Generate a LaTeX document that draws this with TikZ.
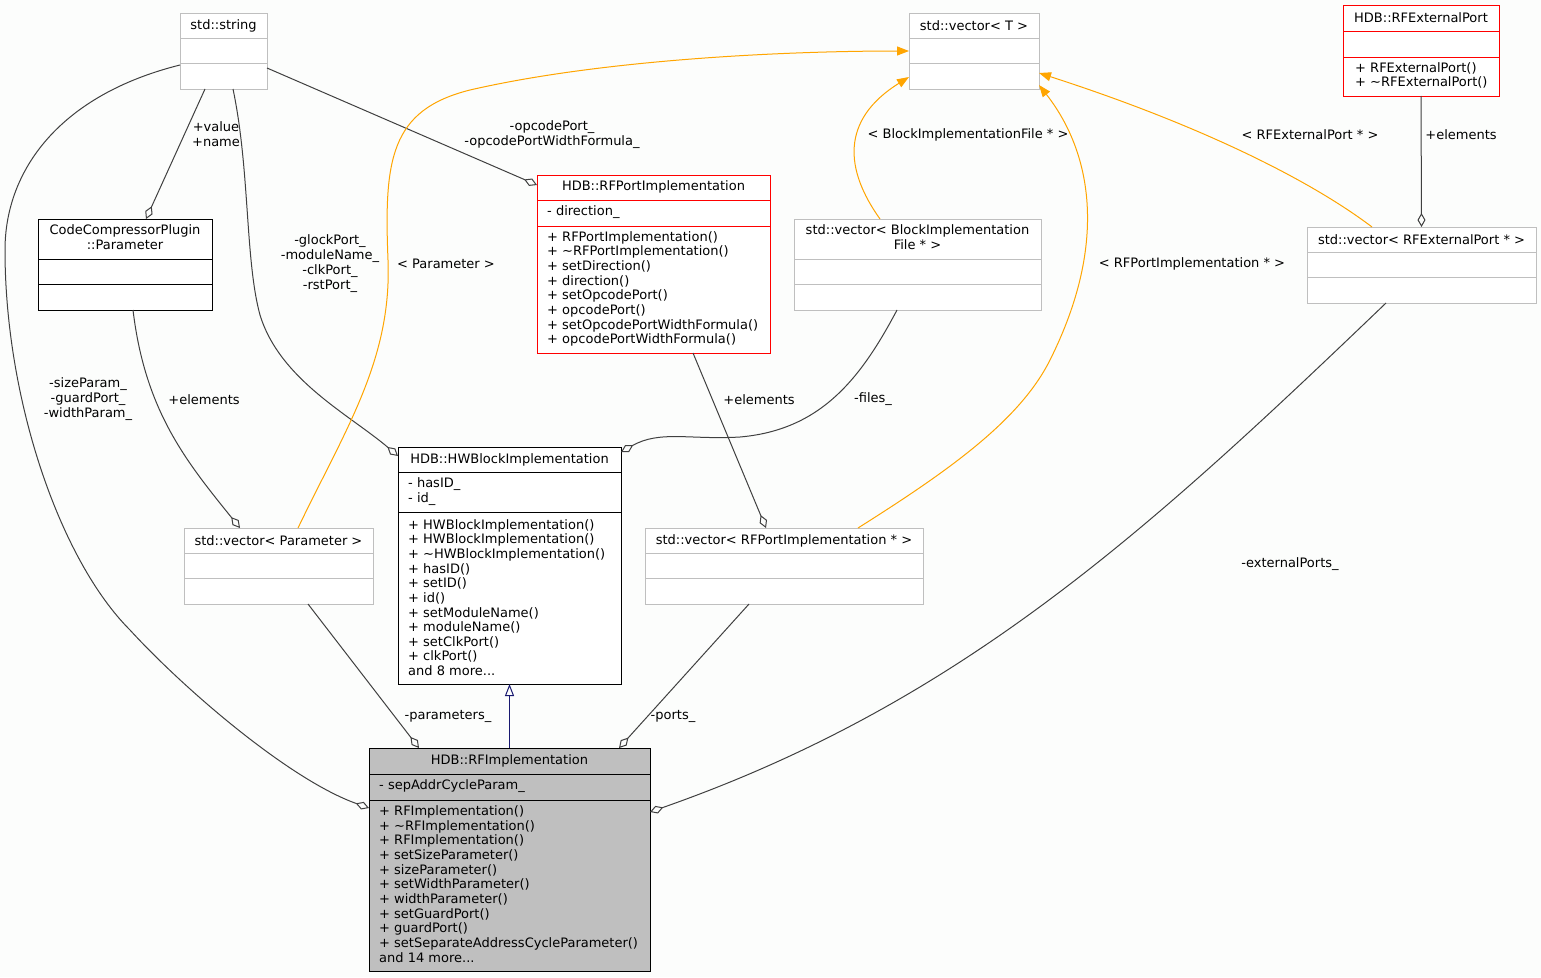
\documentclass[tikz,border=0pt]{standalone}
\usepackage{fontspec}
\setmainfont{DejaVu Sans}
\usetikzlibrary{arrows.meta}
\definecolor{bgc}{HTML}{FCFDFC}
\definecolor{boxgray}{HTML}{BFBFBF}
\definecolor{edgec}{HTML}{404040}
\definecolor{tmplc}{HTML}{FFA500}
\definecolor{inhc}{HTML}{191970}
\definecolor{redc}{HTML}{FF0000}
\definecolor{fillg}{HTML}{BFBFBF}
\newcommand\umlcls[9]{%
  \node[draw=#8, fill=#9, line width=1pt, inner sep=0pt, outer sep=0pt, anchor=north west,
        minimum width={#4-#2}, minimum height={#5-#3}] (#1) at (#2,#3) {};
  \draw[draw=#8, line width=1pt] (#2,#6) -- (#4,#6);
  \draw[draw=#8, line width=1pt] (#2,#7) -- (#4,#7);
}
\begin{document}
\begin{tikzpicture}[x=1pt,y=-1pt,
  ttl/.style={inner sep=0pt, align=center, font=\fontsize{13}{15}\selectfont},
  mtd/.style={inner sep=0pt, align=left, anchor=west, font=\fontsize{13}{14.65}\selectfont},
  lbl/.style={inner sep=0pt, align=center, font=\fontsize{13}{15}\selectfont},
  edge/.style={draw=edgec, line width=1pt},
  agg/.style={edge, -{Diamond[open,length=14pt,width=8pt]}},
  tmpl/.style={draw=tmplc, line width=1pt, -{Triangle[length=12pt,width=9pt]}},
  inh/.style={draw=inhc, line width=1pt, -{Triangle[open,length=12pt,width=9pt]}}
]
\useasboundingbox[fill=bgc] (0,0) rectangle (1541,977);

% ---- boxes ----
\umlcls{str}{180}{13}{267}{89}{38}{63}{boxgray}{white}
\umlcls{vecT}{909}{13}{1039}{89}{38}{63}{boxgray}{white}
\umlcls{ext}{1343}{5}{1499}{96}{31}{57}{redc}{white}
\umlcls{ccp}{38}{219}{212}{310}{259}{284}{black}{white}
\umlcls{rfp}{537}{175}{770}{353}{200}{226}{redc}{white}
\umlcls{vbif}{794}{219}{1041}{310}{259}{284}{boxgray}{white}
\umlcls{vext}{1307}{227}{1536}{303}{252}{277}{boxgray}{white}
\umlcls{hwb}{398}{447}{621}{684}{472}{512}{black}{white}
\umlcls{vpar}{184}{528}{373}{604}{553}{578}{boxgray}{white}
\umlcls{vrfp}{645}{528}{923}{604}{553}{578}{boxgray}{white}
\umlcls{rfi}{369}{748}{650}{971}{774}{800}{black}{fillg}

% ---- titles ----
\node[ttl] (t1) at (223.5,25.5) {std::string};
\node[ttl] (t2) at (974,25.5) {std::vector< T >};
\node[ttl] (t3) at (1421,18) {HDB::RFExternalPort};
\node[ttl] (t4) at (125,237.5) {CodeCompressorPlugin\\::Parameter};
\node[ttl] (t5) at (653.5,187) {HDB::RFPortImplementation};
\node[ttl] (t6) at (917.5,237.5) {std::vector< BlockImplementation\\File * >};
\node[ttl] (t7) at (1421.5,239.5) {std::vector< RFExternalPort * >};
\node[ttl] (t8) at (509.5,459.5) {HDB::HWBlockImplementation};
\node[ttl] (t9) at (278.5,540.5) {std::vector< Parameter >};
\node[ttl] (t10) at (784,540.5) {std::vector< RFPortImplementation * >};
\node[ttl] (t11) at (509.5,761) {HDB::RFImplementation};

% ---- attributes ----
\node[mtd] (a1) at (547,212.5) {- direction\_};
\node[mtd] (a2) at (408,491.5) {- hasID\_\\- id\_};
\node[mtd] (a3) at (379,786.5) {- sepAddrCycleParam\_};

% ---- methods ----
\node[mtd] (m1) at (1355,75.5) {+ RFExternalPort()\\+ \textasciitilde RFExternalPort()};
\node[mtd] (m2) at (547,289) {+ RFPortImplementation()\\+ \textasciitilde RFPortImplementation()\\+ setDirection()\\+ direction()\\+ setOpcodePort()\\+ opcodePort()\\+ setOpcodePortWidthFormula()\\+ opcodePortWidthFormula()};
\node[mtd] (m3) at (408,597.5) {+ HWBlockImplementation()\\+ HWBlockImplementation()\\+ \textasciitilde HWBlockImplementation()\\+ hasID()\\+ setID()\\+ id()\\+ setModuleName()\\+ moduleName()\\+ setClkPort()\\+ clkPort()\\and 8 more...};
\node[mtd] (m4) at (379,884) {+ RFImplementation()\\+ \textasciitilde RFImplementation()\\+ RFImplementation()\\+ setSizeParameter()\\+ sizeParameter()\\+ setWidthParameter()\\+ widthParameter()\\+ setGuardPort()\\+ guardPort()\\+ setSeparateAddressCycleParameter()\\and 14 more...};

% ---- connectors ----
% std::string -> RFImplementation
\draw[agg] ([shift={(0,52)}]str.north west) .. controls (60,95) and (5,170) .. (5,250)
   .. controls (5,400) and (60,560) .. (130,630)
   .. controls (185,690) and (290,780) .. ([shift={(0,60)}]rfi.north west);
\node[lbl] (l1) at (88,399.5) {-sizeParam\_\\-guardPort\_\\-widthParam\_};
% std::string -> CodeCompressorPlugin::Parameter
\draw[agg] ([shift={(25,76)}]str.north west) -- ([shift={(108,0)}]ccp.north west);
\node[lbl] (l2) at (216,134.5) {+value\\+name};
% std::string -> HWBlockImplementation
\draw[agg] ([shift={(53,76)}]str.north west) .. controls (250,170) and (245,260) .. (260,315)
   .. controls (280,380) and (350,415) .. ([shift={(0,9)}]hwb.north west);
\node[lbl] (l3) at (330,264) {-glockPort\_\\-moduleName\_\\-clkPort\_\\-rstPort\_};
% std::string -> RFPortImplementation
\draw[agg] ([shift={(87,55)}]str.north west) -- ([shift={(0,10)}]rfp.north west);
\node[lbl] (l4) at (552,134.5) {-opcodePort\_\\-opcodePortWidthFormula\_};
% vector<Parameter> -> vector<T>
\draw[tmpl] ([shift={(114,0)}]vpar.north west) .. controls (345,430) and (392,360) .. (388,260)
   .. controls (384,160) and (390,110) .. (470,90)
   .. controls (600,60) and (780,51) .. (vecT.west);
\node[lbl] (l5) at (446,263.5) {< Parameter >};
% vector<BlockImplementationFile*> -> vector<T>
\draw[tmpl] ([shift={(86,0)}]vbif.north west) .. controls (845,170) and (840,120) .. ([shift={(0,64)}]vecT.north west);
\node[lbl] (l6) at (968,134.5) {< BlockImplementationFile * >};
% vector<RFPortImplementation*> -> vector<T>
\draw[tmpl] ([shift={(213,0)}]vrfp.north west) .. controls (950,470) and (1020,420) .. (1050,360)
   .. controls (1110,240) and (1090,150) .. ([shift={(130,72)}]vecT.north west);
\node[lbl] (l7) at (1192,263.5) {< RFPortImplementation * >};
% vector<RFExternalPort*> -> vector<T>
\draw[tmpl] ([shift={(65,0)}]vext.north west) .. controls (1310,180) and (1200,125) .. ([shift={(130,60)}]vecT.north west);
\node[lbl] (l8) at (1310,134.5) {< RFExternalPort * >};
% RFExternalPort -> vector<RFExternalPort*>
\draw[agg] (ext.south) -- (vext.north);
\node[lbl] (l9) at (1461,134.5) {+elements};
% CodeCompressorPlugin::Parameter -> vector<Parameter>
\draw[agg] ([shift={(95,91)}]ccp.north west) .. controls (145,410) and (185,460) .. ([shift={(56,0)}]vpar.north west);
\node[lbl] (l10) at (204,399.5) {+elements};
% RFPortImplementation -> vector<RFPortImplementation*>
\draw[agg] ([shift={(156,178)}]rfp.north west) -- ([shift={(121,0)}]vrfp.north west);
\node[lbl] (l11) at (759,399.5) {+elements};
% vector<BlockImplementationFile*> -> HWBlockImplementation
\draw[agg] ([shift={(103,91)}]vbif.north west) .. controls (860,380) and (820,430) .. (740,437)
   .. controls (690,440) and (660,430) .. ([shift={(223,5)}]hwb.north west);
\node[lbl] (l12) at (873,399.5) {-files\_};
% vector<RFExternalPort*> -> RFImplementation
\draw[agg] ([shift={(79,76)}]vext.north west) .. controls (1148,531) and (961,703) .. ([shift={(281,64)}]rfi.north west);
\node[lbl] (l13) at (1290,564.5) {-externalPorts\_};
% vector<Parameter> -> RFImplementation
\draw[agg] ([shift={(124,76)}]vpar.north west) -- ([shift={(50,0)}]rfi.north west);
\node[lbl] (l14) at (448,716.5) {-parameters\_};
% vector<RFPortImplementation*> -> RFImplementation
\draw[agg] ([shift={(104,76)}]vrfp.north west) -- ([shift={(250,0)}]rfi.north west);
\node[lbl] (l15) at (673,716.5) {-ports\_};
% inheritance
\draw[inh] (rfi.north) -- (hwb.south);
\end{tikzpicture}
\end{document}
